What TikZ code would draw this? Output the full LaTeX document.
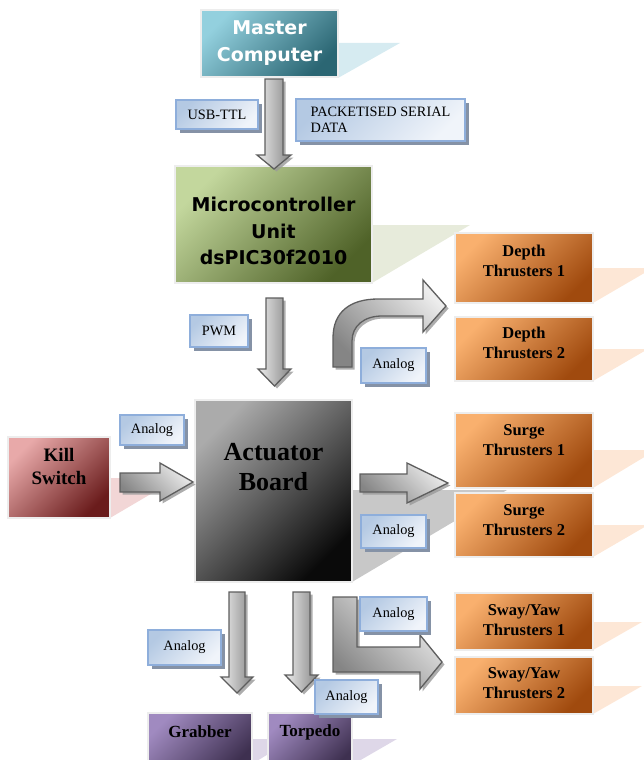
\documentclass[tikz,border=0pt]{standalone}
\usepackage{fontspec}
\setmainfont{Liberation Serif}
\newfontfamily\headsans{DejaVu Sans}
\usetikzlibrary{shadows}

% box fills (light corner / dark corner)
\definecolor{tealA}{HTML}{93D0DE}
\definecolor{tealB}{HTML}{2B6673}
\definecolor{greenA}{HTML}{C3D79D}
\definecolor{greenB}{HTML}{4F6228}
\definecolor{orA}{HTML}{F9B06E}
\definecolor{orB}{HTML}{A04A0E}
\definecolor{redA}{HTML}{E8A9A9}
\definecolor{redB}{HTML}{6A1C1C}
\definecolor{grayA}{HTML}{ABABAB}
\definecolor{grayB}{HTML}{0A0A0A}
\definecolor{purA}{HTML}{A08AC0}
\definecolor{purB}{HTML}{3E3050}
% signal tags
\definecolor{lblA}{HTML}{B4C9E3}
\definecolor{lblB}{HTML}{F0F4FA}
\definecolor{lblEdge}{HTML}{8EAEDB}
\definecolor{lblShadow}{HTML}{8592A6}
% block arrows
\definecolor{arrEdge}{HTML}{5E5E5E}
\definecolor{arrA}{HTML}{858585}
\definecolor{arrB}{HTML}{EDEDED}
% reflections
\definecolor{rTeal}{HTML}{D6EBF1}
\definecolor{rGreen}{HTML}{E7EBDB}
\definecolor{rOr}{HTML}{FDE7D6}
\definecolor{rRed}{HTML}{F2D6D6}
\definecolor{rGray}{HTML}{C8C8C8}
\definecolor{rPur}{HTML}{DED7E8}

\tikzset{
  box/.style={draw=black!7, line width=2.2pt, inner sep=0pt},
  tealfill/.style={top color=tealA, bottom color=tealB, shading angle=45},
  greenfill/.style={top color=greenA, bottom color=greenB, shading angle=45},
  orfill/.style={top color=orA, bottom color=orB, shading angle=45},
  redfill/.style={top color=redA, bottom color=redB, shading angle=45},
  grayfill/.style={top color=grayA, bottom color=grayB, shading angle=45},
  purfill/.style={top color=purA, bottom color=purB, shading angle=45},
  headtxt/.style={font=\headsans\bfseries\fontsize{19}{26.5}\selectfont, align=center, inner sep=0pt},
  thrtxt/.style={font=\bfseries\fontsize{16.5}{19.5}\selectfont, align=center, inner sep=0pt},
  tag/.style={draw=lblEdge, line width=1.6pt, top color=lblA, bottom color=lblB,
    shading angle=45, inner sep=0pt, align=left,
    font=\fontsize{14.3}{15.5}\selectfont,
    drop shadow={shadow xshift=3.5pt, shadow yshift=-3.5pt, fill=lblShadow, opacity=1}},
  arr/.style={draw=arrEdge, line width=1.3pt, line join=miter,
    drop shadow={shadow xshift=2.5pt, shadow yshift=-2.5pt, fill=black!40, opacity=0.8}},
  varr/.style={arr, top color=arrB, bottom color=arrA, shading angle=90},
  darr/.style={arr, top color=arrA, bottom color=arrB, shading angle=135},
}

\begin{document}
\begin{tikzpicture}[x=1pt, y=-1pt]
\useasboundingbox (0,0) rectangle (644,760);
\clip (0,0) rectangle (644,760);

% ---- reflections behind the boxes
\fill[rTeal]  (338,43)  -- (400,43)  -- (338,78)  -- cycle;
\fill[rGreen] (372,225) -- (470,225) -- (372,283) -- cycle;
\fill[rOr]    (593,268) -- (653,268) -- (593,303) -- cycle;
\fill[rOr]    (593,349) -- (648,349) -- (593,381) -- cycle;
\fill[rOr]    (593,450) -- (656,450) -- (593,488) -- cycle;
\fill[rOr]    (593,525) -- (648,525) -- (593,557) -- cycle;
\fill[rOr]    (593,622) -- (642,622) -- (593,650) -- cycle;
\fill[rOr]    (593,686) -- (642,686) -- (593,714) -- cycle;
\fill[rRed]   (110,478) -- (178,478) -- (110,518) -- cycle;
\fill[rGray]  (352,490) -- (507,490) -- (352,582) -- cycle;
\fill[rPur]   (252,739) -- (293,739) -- (252,764) -- cycle;
\fill[rPur]   (352,739) -- (397,739) -- (352,765) -- cycle;

% ---- blocks
\node[box, tealfill,  minimum width=137pt, minimum height=67pt]  (master) at (269.5,43.5) {};
\node[box, greenfill, minimum width=197pt, minimum height=117pt] (mcu)    at (273.5,224.5) {};
\node[box, orfill, minimum width=138pt, minimum height=70pt] (d1) at (524,268) {};
\node[box, orfill, minimum width=138pt, minimum height=64pt] (d2) at (524,349) {};
\node[box, orfill, minimum width=138pt, minimum height=75pt] (s1) at (524,450.5) {};
\node[box, orfill, minimum width=138pt, minimum height=64pt] (s2) at (524,525) {};
\node[box, orfill, minimum width=138pt, minimum height=57pt] (y1) at (524,621.5) {};
\node[box, orfill, minimum width=138pt, minimum height=57pt] (y2) at (524,685.5) {};
\node[box, redfill,  minimum width=102pt, minimum height=81pt]  (kill) at (59,477.5) {};
\node[box, grayfill, minimum width=157pt, minimum height=182pt] (act)  at (273.5,491) {};
\node[box, purfill,  minimum width=104pt, minimum height=57pt]  (grab) at (200,741.5) {};
\node[box, purfill,  minimum width=84pt,  minimum height=57pt]  (torp) at (310,741.5) {};

% ---- block texts
\node[headtxt, text=white] (masterT) at (269.5,43) {Master\\Computer};
\node[headtxt] (mcuT) at (273.5,231) {Microcontroller\\Unit\\dsPIC30f2010};
\node[thrtxt] (d1T) at (524,261) {Depth\\Thrusters 1};
\node[thrtxt] (d2T) at (524,343) {Depth\\Thrusters 2};
\node[thrtxt] (s1T) at (524,440) {Surge\\Thrusters 1};
\node[thrtxt] (s2T) at (524,520) {Surge\\Thrusters 2};
\node[thrtxt] (y1T) at (524,620) {Sway/Yaw\\Thrusters 1};
\node[thrtxt] (y2T) at (524,683) {Sway/Yaw\\Thrusters 2};
\node[thrtxt, font=\bfseries\fontsize{19}{23}\selectfont] (killT) at (59,466) {Kill\\Switch};
\node[thrtxt, font=\bfseries\fontsize{26}{30}\selectfont] (actT) at (273.5,467) {Actuator\\Board};
\node[thrtxt, font=\bfseries\fontsize{17}{20}\selectfont] (grabT) at (200,732) {Grabber};
\node[thrtxt, font=\bfseries\fontsize{17}{20}\selectfont] (torpT) at (310,732) {Torpedo};

% ---- block arrows
\path[varr] (265,79) -- (283,79) -- (283,155) -- (291,155) -- (274,169) -- (257,155) -- (265,155) -- cycle;
\path[varr] (266,298) -- (283,298) -- (283,369) -- (291,369) -- (274.5,386) -- (258,369) -- (266,369) -- cycle;
\path[varr] (229,592) -- (245,592) -- (245,677) -- (253,677) -- (237,693) -- (221,677) -- (229,677) -- cycle;
\path[varr] (293,592) -- (310,592) -- (310,675) -- (318,675) -- (301.5,692) -- (285,675) -- (293,675) -- cycle;
\path[darr] (120,473) -- (160,473) -- (160,463) -- (193,482) -- (160,501) -- (160,492) -- (120,492) -- cycle;
\path[darr] (360,474) -- (407,474) -- (407,463) -- (448,483) -- (407,503) -- (407,492) -- (360,492) -- cycle;
\path[darr] (333,367) -- (333,338) .. controls (333,312) and (350,299) .. (378,299)
  -- (423,299) -- (423,280) -- (446,306) -- (423,332) -- (423,316) -- (382,316)
  .. controls (364,316) and (352,326) .. (352,341) -- (352,367) -- cycle;
\path[darr] (333,597) -- (357,597) -- (357,647) -- (420,647) -- (420,635) -- (442,662)
  -- (420,689) -- (420,672) -- (333,672) -- cycle;

% ---- signal tags
\node[tag, minimum width=82pt,  minimum height=29pt] (usb)  at (217,114.5) {USB-TTL};
\node[tag, minimum width=169pt, minimum height=42pt] (pkt)  at (380.5,120) {PACKETISED SERIAL\\DATA};
\node[tag, minimum width=58pt,  minimum height=32pt] (pwm)  at (219,331) {PWM};
\node[tag, minimum width=65pt,  minimum height=35pt] (anD)  at (393.5,365.5) {Analog};
\node[tag, minimum width=64pt,  minimum height=30pt] (anK)  at (152,430) {Analog};
\node[tag, minimum width=65pt,  minimum height=33pt] (anS)  at (393.5,531.5) {Analog};
\node[tag, minimum width=67pt,  minimum height=34pt] (anY)  at (393.5,614) {Analog};
\node[tag, minimum width=73pt,  minimum height=35pt] (anG)  at (184.5,647.5) {Analog};
\node[tag, minimum width=63pt,  minimum height=34pt] (anT)  at (346.5,697) {Analog};
\end{tikzpicture}
\end{document}
